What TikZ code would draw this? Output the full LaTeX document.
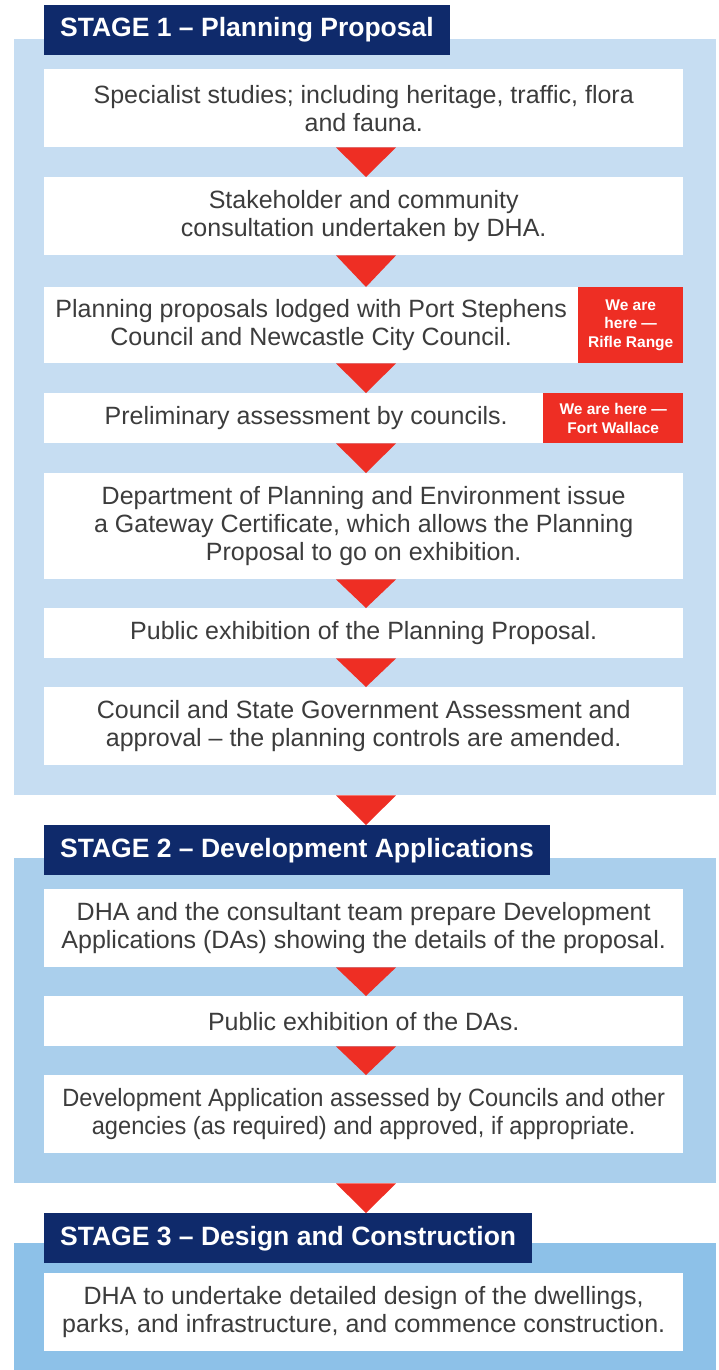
\documentclass[tikz,border=0pt]{standalone}
\usepackage{fontspec}
\setmainfont{Liberation Sans}
\usetikzlibrary{calc}
\definecolor{panelA}{HTML}{C6DDF2}
\definecolor{panelB}{HTML}{AACFEC}
\definecolor{panelC}{HTML}{8DC1E8}
\definecolor{navy}{HTML}{0F2A6B}
\definecolor{tagred}{HTML}{EE2E24}
\definecolor{bodytext}{HTML}{3C3C3C}
\newcommand\tridown[2]{\fill[tagred] ($(#1.south -| xc)+(-30,0)$) -- ($(#1.south -| xc)+(30,0)$) -- (#2.north -| xc) -- cycle;}
\begin{document}
\begin{tikzpicture}[x=1pt,y=-1pt,
  panel/.style={inner sep=0pt, anchor=north west, minimum width=702pt},
  stepbox/.style={fill=white, text=bodytext, font=\fontsize{25}{28}\selectfont, align=center, inner sep=0pt, anchor=north west, minimum width=639pt},
  header/.style={fill=navy, text=white, font=\fontsize{26.5}{30}\selectfont\bfseries, inner xsep=16pt, inner ysep=0pt, minimum height=50pt, anchor=north west},
  tag/.style={fill=tagred, text=white, font=\fontsize{15.5}{18.7}\selectfont\bfseries, align=center, inner sep=0pt, anchor=north west}]
\useasboundingbox (0,0) rectangle (719,1370);
\coordinate (xc) at (366,0);
% panels
\node[panel, fill=panelA, minimum height=756pt] (p1) at (14,39) {};
\node[panel, fill=panelB, minimum height=325pt] (p2) at (14,858) {};
\node[panel, fill=panelC, minimum height=127pt] (p3) at (14,1243) {};
% headers
\node[header] (h1) at (44,5) {STAGE 1 – Planning Proposal};
\node[header] (h2) at (44,825) {STAGE 2 – Development Applications};
\node[header] (h3) at (44,1213) {STAGE 3 – Design and Construction};
% stage 1 boxes
\node[stepbox, minimum height=78pt] (b1) at (44,69) {Specialist studies; including heritage, traffic, flora\\and fauna.};
\node[stepbox, minimum height=78pt] (b2) at (44,177) {Stakeholder and community\\consultation undertaken by DHA.};
\node[stepbox, minimum height=76pt, minimum width=534pt] (b3) at (44,287) {Planning proposals lodged with Port Stephens\\Council and Newcastle City Council.};
\node[tag, minimum width=105pt, minimum height=76pt] (t1) at (578,287) {We are\\here —\\Rifle Range};
\node[stepbox, minimum height=50pt, minimum width=524pt] (b4) at (44,393) {Preliminary assessment by councils.};
\node[tag, minimum width=140pt, minimum height=50pt] (t2) at (543,393) {We are here —\\Fort Wallace};
\node[stepbox, minimum height=106pt] (b5) at (44,473) {Department of Planning and Environment issue\\a Gateway Certificate, which allows the Planning\\Proposal to go on exhibition.};
\node[stepbox, minimum height=50pt] (b6) at (44,608) {Public exhibition of the Planning Proposal.};
\node[stepbox, minimum height=78pt] (b7) at (44,687) {Council and State Government Assessment and\\approval – the planning controls are amended.};
% stage 2 boxes
\node[stepbox, minimum height=78pt] (b8) at (44,889) {DHA and the consultant team prepare Development\\Applications (DAs) showing the details of the proposal.};
\node[stepbox, minimum height=50pt] (b9) at (44,996) {Public exhibition of the DAs.};
\node[stepbox, minimum height=78pt, font=\fontsize{25}{28}\selectfont\addfontfeature{FakeStretch=0.945}] (b10) at (44,1075) {Development Application assessed by Councils and other\\agencies (as required) and approved, if appropriate.};
% stage 3 box
\node[stepbox, minimum height=78pt] (b11) at (44,1273) {DHA to undertake detailed design of the dwellings,\\parks, and infrastructure, and commence construction.};
% arrows
\tridown{b1}{b2}
\tridown{b2}{b3}
\tridown{b3}{b4}
\tridown{b4}{b5}
\tridown{b5}{b6}
\tridown{b6}{b7}
\tridown{p1}{h2}
\tridown{b8}{b9}
\tridown{b9}{b10}
\tridown{p2}{h3}
\end{tikzpicture}
\end{document}
